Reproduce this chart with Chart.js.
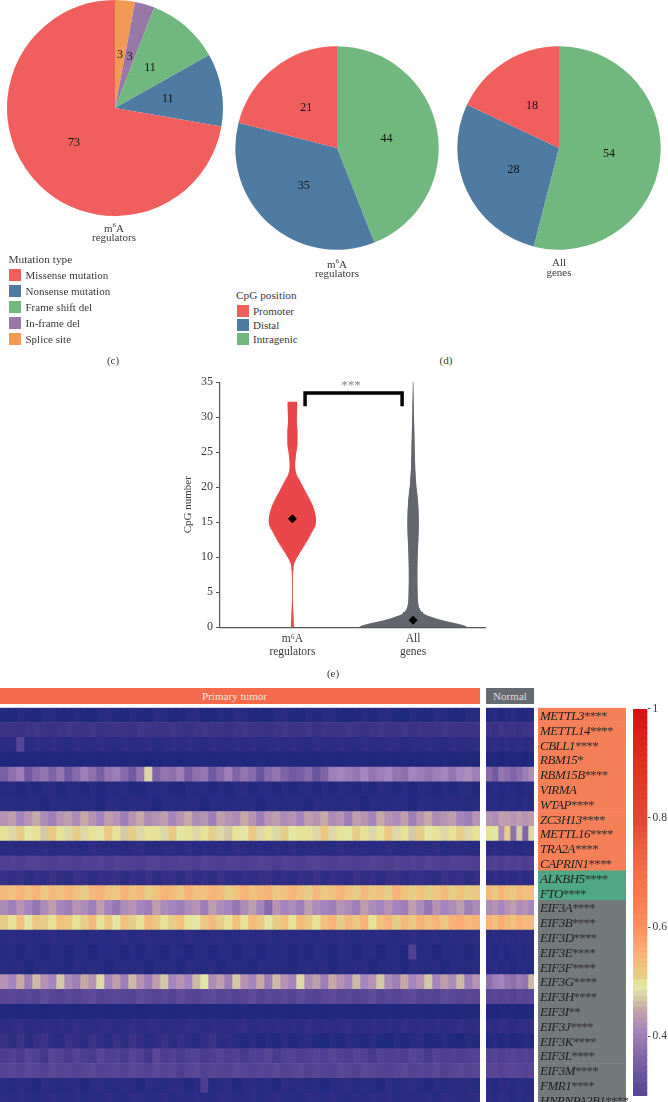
<!DOCTYPE html>
<html>
<head>
<meta charset="utf-8">
<title>m6A regulators</title>
<script src="https://cdn.jsdelivr.net/npm/chart.js@4/dist/chart.umd.js"></script>
<style>
  html, body { margin: 0; padding: 0; background: #fff; }
  body { position: relative; width: 668px; height: 1102px; overflow: hidden; font-family: "Liberation Serif", serif; color: #3a3a3a; }
  canvas { position: absolute; display: block; }
  .t { position: absolute; white-space: nowrap; font-size: 11px; line-height: 14px; }
  .c { transform: translateX(-50%); text-align: center; }
  .l { line-height: 9px; }
  .sw { position: absolute; width: 12px; height: 12px; }
  .band { position: absolute; color: #f3e6dc; font-size: 11.1px; line-height: 16px; text-align: center; box-sizing: border-box; }
  .gene { position: absolute; left: 540px; font-size: 13px; line-height: 15px; color: #222; white-space: nowrap; }
  .gene i { letter-spacing: -.5px; }
  .gene span { color: #333; letter-spacing: -.8px; }
</style>
</head>
<body>
<canvas id="pieMutation" width="240" height="240" style="left:-5px;top:-12px"></canvas>
<canvas id="pieCpgRegulators" width="220" height="220" style="left:227px;top:38px"></canvas>
<canvas id="pieCpgAll" width="220" height="220" style="left:449px;top:38px"></canvas>
<canvas id="violin" width="320" height="300" style="left:170px;top:372px"></canvas>
<canvas id="heatPrimary" width="480" height="401" style="left:0;top:707px"></canvas>
<canvas id="heatNormal" width="48" height="401" style="left:486px;top:707px"></canvas>
<canvas id="heatGroups" width="88" height="401" style="left:538px;top:707px"></canvas>
<canvas id="colorbar" width="35" height="405" style="left:633px;top:700px"></canvas>

<div class="t c l" style="left:114px;top:224px">m<sup style="font-size:7px;line-height:0">6</sup>A<br>regulators</div>
<div class="t c l" style="left:337px;top:260px">m<sup style="font-size:7px;line-height:0">6</sup>A<br>regulators</div>
<div class="t c" style="left:559px;top:257px;line-height:10px">All<br>genes</div>
<div class="t c" style="left:113px;top:353px">(c)</div>
<div class="t c" style="left:446px;top:353px">(d)</div>
<div class="t c" style="left:333px;top:666px">(e)</div>
<div class="t c" style="left:351px;top:378px;color:#888;font-size:13px">***</div>
<div class="band" style="left:0;top:688px;width:480px;height:16px;background:#f66a4c;padding-right:11px">Primary tumor</div>
<div class="band" style="left:486px;top:688px;width:48px;height:16px;background:#666a72;color:#ddd">Normal</div>
<div id="legends"></div>
<div id="genes"></div>

<script>
// pie values
const mutationTypes = ['Missense mutation', 'Nonsense mutation', 'Frame shift del', 'In-frame del', 'Splice site'];
const mutationValues = [73, 11, 11, 3, 3];
const mutationColors = ['#f05f5e', '#4f7ba2', '#71b87f', '#9878a7', '#f09a55'];
const cpgPositions = ['Promoter', 'Distal', 'Intragenic'];
const cpgRegulators = [21, 35, 44];
const cpgAllGenes = [18, 28, 54];
const cpgColors = ['#f05f5e', '#4f7ba2', '#71b87f'];

// violin half widths in px, one per 0.25 CpG from 0 up
const violinCategories = [['m⁶A', 'regulators'], ['All', 'genes']];
const cpgTicks = [0, 5, 10, 15, 20, 25, 30, 35];
const binStep = 0.25;
const regulatorWidths = [
  1.5, 1.4, 1.3, 1.25, 1.2, 1.1, 1, .95, .9, .8, .75, .65, .6, .5, .45, .4,
  .35, .35, .3, .3, .3, .3, .3, .3, .35, .35, .35, .4, .4, .45, .5, .6,
  .7, .85, 1, 1.2, 1.5, 1.9, 2.8, 3.5, 4.5, 5.6, 6.6, 7.7, 8.8, 10, 11, 12.1,
  13.2, 14.3, 15.3, 16.3, 17.3, 18.2, 19.1, 20, 21, 22, 22.8, 23.4, 23.6, 23.7, 23.6, 23.4,
  23.1, 22.7, 22.3, 21.8, 21.2, 20.5, 19.8, 19, 18.1, 17.2, 16.3, 15.4, 14.4, 13.4, 12.5, 11.6,
  10.7, 9.8, 8.9, 8, 7, 6, 5, 4.2, 3.6, 3.2, 3, 2.8, 2.7, 2.7, 2.7, 2.8,
  3, 3.2, 3.4, 3.6, 3.8, 4.1, 4.4, 4.7, 4.9, 5, 5, 5, 5, 5, 5, 5,
  5, 4.9, 4.8, 4.6, 4.5, 4.4, 4.4, 4.4, 4.4, 4.5, 4.5, 4.6, 4.6, 4.7, 4.7, 4.8, 4.8
];
const allGeneWidths = [
  54.5, 51.5, 45, 37, 29.5, 23, 18, 13, 10, 7.8, 6.8, 6, 5.6, 5.2, 5, 4.8,
  4.7, 4.6, 4.6, 4.5, 4.5, 4.4, 4.4, 4.4, 4.3, 4.3, 4.3, 4.3, 4.3, 4.3, 4.3, 4.3,
  4.3, 4.3, 4.3, 4.4, 4.4, 4.4, 4.5, 4.5, 4.6, 4.6, 4.7, 4.8, 4.8, 4.9, 5, 5,
  5.1, 5.2, 5.3, 5.3, 5.4, 5.5, 5.5, 5.6, 5.6, 5.7, 5.7, 5.7, 5.7, 5.7, 5.7, 5.6,
  5.6, 5.5, 5.5, 5.4, 5.3, 5.2, 5.1, 5, 4.9, 4.7, 4.6, 4.4, 4.2, 4, 3.8, 3.6,
  3.3, 3.2, 3.1, 3, 2.9, 2.7, 2.6, 2.5, 2.4, 2.3, 2.2, 2.1, 2.1, 2, 2, 1.9,
  1.9, 1.8, 1.8, 1.7, 1.7, 1.6, 1.6, 1.5, 1.5, 1.5, 1.4, 1.4, 1.3, 1.3, 1.3, 1.2,
  1.2, 1.2, 1.1, 1.1, 1, 1, 1, .9, .9, .9, .8, .8, .8, .7, .7, .7,
  .6, .6, .5, .5, .5, .4, .4, .3, .3, .3, .25, .25, .2, .2, .15, .15, .15
];
const meanCategory = [1, 2];
const meanCpg = [15.5, 1];
const bracketSpan = [1.105, 1.909];
const bracketLevels = [31.55, 33.45];

// heatmap
const genes = ['METTL3', 'METTL14', 'CBLL1', 'RBM15', 'RBM15B', 'VIRMA', 'WTAP', 'ZC3H13', 'METTL16', 'TRA2A', 'CAPRIN1', 'ALKBH5', 'FTO',
  'EIF3A', 'EIF3B', 'EIF3D', 'EIF3E', 'EIF3F', 'EIF3G', 'EIF3H', 'EIF3I', 'EIF3J', 'EIF3K', 'EIF3L', 'EIF3M', 'FMR1', 'HNRNPA2B1'];
const geneStars = ['****', '****', '****', '*', '****', '', '****', '****', '****', '****', '****', '****', '****',
  '****', '****', '****', '****', '****', '****', '****', '**', '****', '****', '****', '****', '****', '****'];
const geneGroups = [0, 0, 0, 0, 0, 0, 0, 0, 0, 0, 0, 1, 1, 2, 2, 2, 2, 2, 2, 2, 2, 2, 2, 2, 2, 2, 2];
const groupColors = ['#f58058', '#4ea886', '#74797a'];

// percent, one row per gene
const primaryTumor = [
  [10,9,12,10,8,11,13,9,10,12,9,8,11,14,10,9,12,10,8,13,11,9,10,12,14,9,8,11,10,13,12,9,10,8,11,14,10,9,12,10,11,13,9,8,10,12,9,11,14,10,8,12,10,9,13,11,10,9,12,11],
  [19,20,18,20,21,19,18,20,21,20,19,21,18,19,20,20,18,21,20,19,20,21,19,18,20,21,19,20,18,20,21,19,20,18,20,21,19,20,21,18,20,20,19,21,20,18,20,21,20,19,21,18,20,20,19,21,20,20,19,20],
  [14,13,28,12,15,13,15,14,12,15,14,13,15,14,12,15,13,14,15,12,14,15,13,15,14,12,15,14,13,15,14,15,12,14,15,13,15,14,12,15,13,14,15,14,12,15,14,13,15,15,12,14,13,15,14,12,15,14,13,15],
  [8,7,9,8,9,7,8,9,7,8,9,8,7,9,8,7,10,8,7,9,8,9,7,8,9,8,7,9,8,9,7,8,10,7,8,9,7,9,8,7,9,8,7,9,8,9,7,8,9,7,9,8,7,9,8,10,7,8,9,7],
  [35,38,40,34,37,39,36,39,34,37,40,38,35,39,40,37,34,39,48,36,39,38,40,35,38,39,34,37,40,36,39,37,33,37,39,36,34,35,37,33,36,40,41,40,39,41,39,40,41,39,38,41,40,39,40,41,39,41,42,40],
  [11,12,10,12,9,11,13,10,12,11,9,12,10,12,11,13,9,10,12,11,12,10,9,12,11,12,10,12,9,11,13,10,11,12,9,12,10,11,13,9,12,10,12,11,9,12,10,13,11,10,12,9,12,11,10,12,9,11,12,10],
  [12,13,11,13,12,10,13,12,13,11,13,12,10,13,12,11,13,12,13,10,12,13,11,12,13,10,13,12,11,13,12,13,10,12,13,11,13,12,10,13,12,13,11,12,13,10,13,12,11,13,12,10,13,12,11,13,12,13,11,12],
  [43,44,41,43,45,42,40,43,44,42,45,43,41,44,43,40,43,45,42,43,44,41,43,45,42,43,40,44,43,42,45,43,40,43,44,42,43,41,44,43,45,42,43,40,44,43,41,45,43,42,44,40,43,45,42,43,44,41,40,43],
  [50,48,51,49,50,47,52,50,48,51,48,50,49,52,50,47,51,48,50,50,48,52,49,50,48,50,51,48,47,50,49,52,48,50,48,51,49,50,50,48,52,48,50,49,51,50,48,50,52,48,50,47,51,49,50,48,50,51,48,50],
  [13,14,12,14,13,15,12,14,14,13,12,15,14,13,14,12,14,15,13,12,14,14,13,15,12,14,13,14,12,15,14,13,14,12,14,13,15,12,14,14,13,12,15,14,13,14,12,14,15,13,12,14,14,13,15,12,14,14,13,12],
  [25,26,24,26,27,25,24,26,26,24,26,25,27,24,26,26,25,24,26,27,24,25,26,26,24,27,25,24,26,26,24,25,27,26,24,26,25,24,26,27,25,24,26,26,24,25,27,26,24,26,25,26,24,27,25,24,26,26,25,24],
  [17,16,18,14,17,15,18,16,14,18,17,14,17,16,18,14,17,15,18,14,16,17,14,18,15,17,14,18,16,14,17,15,17,18,14,16,14,17,15,18,14,17,16,14,18,15,17,14,17,18,14,16,17,15,14,18,16,17,14,17],
  [54,53,55,53,55,52,54,53,55,53,51,54,55,53,52,55,53,54,51,53,55,54,52,55,53,53,55,54,51,53,55,53,54,55,52,53,55,53,51,54,52,53,55,53,51,54,52,53,51,55,53,51,53,51,52,54,51,53,51,52],
  [42,40,43,41,39,42,44,41,40,43,42,40,44,41,39,42,43,41,40,44,42,41,40,42,43,40,44,42,41,39,42,44,41,37,43,41,42,40,44,42,41,40,43,42,40,44,42,41,43,41,40,44,42,39,43,41,42,44,40,42],
  [51,50,53,49,52,51,50,53,52,50,51,54,50,52,49,53,51,50,54,52,50,51,53,50,49,52,54,51,50,53,50,54,52,49,51,53,50,54,52,50,53,55,51,54,52,55,50,53,55,51,54,52,55,53,55,52,55,56,54,55],
  [13,14,12,14,11,13,15,12,14,13,11,14,13,12,14,15,11,13,14,12,14,13,11,15,13,12,14,14,11,13,14,12,13,15,11,14,12,14,13,11,14,12,15,13,11,14,12,14,13,11,14,15,12,13,14,11,14,12,13,14],
  [11,12,10,13,11,9,12,13,10,11,13,9,12,11,13,10,12,9,13,11,10,13,12,9,11,13,10,12,13,9,11,13,10,12,11,13,9,12,10,13,11,9,13,12,10,11,13,9,12,13,10,26,11,13,9,12,11,13,10,12],
  [12,11,13,10,12,13,11,12,10,13,11,13,12,10,11,13,12,13,10,11,12,13,10,13,12,11,13,10,12,13,11,10,13,12,13,11,10,12,13,11,13,10,12,11,13,13,10,12,11,13,10,13,12,11,13,10,12,13,11,13],
  [43,41,45,40,46,43,41,47,42,40,45,43,48,41,44,40,46,43,40,44,47,41,43,41,46,49,42,44,40,47,43,41,45,40,46,43,41,48,42,44,40,45,43,41,46,41,43,47,42,40,45,41,43,47,41,44,42,46,40,43],
  [29,30,28,30,27,31,29,27,30,28,30,31,27,29,30,28,27,31,30,28,30,27,31,29,27,30,31,28,30,27,29,31,27,30,28,30,27,31,29,27,30,31,28,30,27,29,31,27,30,28,30,31,27,29,27,31,30,28,30,29],
  [8,9,7,9,8,7,9,10,8,7,9,8,9,7,9,8,10,7,8,9,9,7,8,10,9,7,9,8,9,7,10,8,9,7,9,8,7,9,9,8,7,10,9,8,9,7,8,9,10,7,8,9,9,7,8,9,7,9,8,9],
  [14,15,16,13,14,15,14,15,13,16,14,14,15,15,13,14,16,14,15,15,13,14,14,16,15,13,15,14,14,15,16,13,15,14,15,14,15,13,16,14,15,14,15,16,13,14,15,14,15,13,16,14,15,14,15,13,14,16,14,15],
  [18,14,19,13,17,20,14,12,18,16,13,19,15,12,18,14,19,16,12,15,18,13,17,14,11,16,19,13,15,12,10,13,9,12,10,13,9,11,13,10,8,12,9,13,11,9,13,10,8,12,9,11,13,8,10,12,9,8,11,10],
  [24,26,23,28,25,22,29,26,23,27,24,23,29,25,26,23,28,25,22,30,24,26,23,26,27,23,25,28,24,26,23,26,25,29,23,26,27,24,26,28,25,29,26,24,28,26,23,27,25,26,24,29,26,23,27,25,26,24,26,27],
  [27,29,26,30,28,26,30,27,29,26,28,30,26,27,29,26,30,28,26,30,27,29,25,28,30,26,29,27,26,30,28,26,29,27,30,26,28,30,26,29,27,26,30,28,26,30,29,27,26,28,30,26,29,27,30,26,28,30,27,29],
  [13,11,14,12,10,14,13,11,12,14,10,13,14,11,12,14,13,10,14,12,11,14,13,10,12,24,11,13,14,10,12,14,11,13,10,14,12,14,11,13,10,12,14,14,11,13,12,10,14,11,13,14,12,10,13,11,14,12,14,11],
  [14,12,15,13,11,14,15,12,13,15,11,14,12,15,13,11,15,14,12,13,15,11,14,12,15,13,11,15,14,12,13,15,11,14,15,12,13,11,15,14,12,15,13,11,14,12,15,13,15,11,14,12,13,15,11,15,14,12,13,15]
];
const normalTissue = [
  [10,12,9,11,13,10,9,12],
  [20,18,21,19,20,18,20,21],
  [14,15,13,15,14,15,13,15],
  [8,9,7,9,8,9,7,9],
  [37,34,39,38,36,38,40,42],
  [11,12,10,12,11,10,12,11],
  [12,13,11,13,12,11,13,12],
  [43,42,44,44,43,44,43,44],
  [50,49,42,51,38,47,36,48],
  [13,14,12,14,13,12,14,13],
  [25,26,24,26,25,26,24,26],
  [14,16,13,15,14,16,13,15],
  [54,52,55,53,52,54,53,53],
  [42,43,41,43,44,42,43,41],
  [55,53,56,54,53,55,54,54],
  [13,14,12,14,12,14,13,14],
  [12,11,13,10,12,13,11,12],
  [12,13,11,13,10,12,13,11],
  [38,40,41,39,38,40,39,46],
  [29,30,28,30,27,30,29,30],
  [9,7,9,8,9,7,8,9],
  [15,14,16,15,14,15,15,16],
  [10,12,9,11,8,10,12,9],
  [26,27,25,27,28,26,27,25],
  [28,29,27,29,30,28,27,29],
  [13,11,14,12,11,14,13,12],
  [14,12,15,13,11,14,12,13]
];

// colour scale, same stops for the heatmap and the colour bar
const scaleStops = [0, .05, .1, .15, .2, .25, .3, .33, .36, .39, .41, .43, .45, .465, .48, .495, .51, .53, .56, .6, .655, .7, .8, .9, 1];
const scaleColors = ['#182572', '#1a2777', '#222a80', '#2f2d84', '#3e3487', '#4f3f90', '#5a4896', '#6a55a0', '#8064a8', '#9676b0', '#a585bd', '#b692b3', '#c6a9a6', '#cfc2a6', '#dcd8a8', '#e6eda2', '#e5cf88', '#f1c27e', '#fbab75', '#fc9060', '#f87a4e', '#f37149', '#e64632', '#e5301f', '#de0f10'];
const colorbarLevels = [.29, .3, .31, .32, .33, .34, .35, .36, .37, .38, .39, .4, .41, .42, .43, .44, .45, .46, .47, .48, .49, .5, .51, .52, .53, .54, .55, .56, .57, .58, .59, .6,
  .61, .62, .63, .64, .65, .66, .67, .68, .69, .7, .71, .72, .73, .74, .75, .76, .77, .78, .79, .8, .81, .82, .83, .84, .85, .86, .87, .88, .89, .9, .91, .92, .93, .94, .95, .96, .97, .98, .99, 1];
const colorbarTicks = [.4, .6, .8, 1];

const serif = '"Liberation Serif", serif';
Chart.defaults.font.family = serif;
Chart.defaults.animation = false;
Chart.defaults.responsive = false;
Chart.defaults.plugins.legend.display = false;
Chart.defaults.plugins.tooltip.enabled = false;

function hex(c) {
  return [1, 3, 5].map(i => parseInt(c.slice(i, i + 2), 16));
}

function colorAt(v) {
  let i = 0;
  while (i < scaleStops.length - 2 && v > scaleStops[i + 1]) i++;
  const f = Math.min(1, Math.max(0, (v - scaleStops[i]) / (scaleStops[i + 1] - scaleStops[i])));
  const a = hex(scaleColors[i]);
  const b = hex(scaleColors[i + 1]);
  return `rgb(${a.map((x, k) => Math.round(x + (b[k] - x) * f)).join(',')})`;
}

// value labels half way along each slice
const sliceLabels = {
  id: 'sliceLabels',
  afterDatasetsDraw(chart) {
    const ctx = chart.ctx;
    const values = chart.data.datasets[0].data;
    ctx.save();
    ctx.font = '12px ' + serif;
    ctx.fillStyle = '#111';
    ctx.textAlign = 'center';
    ctx.textBaseline = 'middle';
    chart.getDatasetMeta(0).data.forEach((arc, i) => {
      const mid = (arc.startAngle + arc.endAngle) / 2;
      const r = arc.outerRadius * 0.495;
      ctx.fillText(values[i], arc.x + Math.cos(mid) * r, arc.y + Math.sin(mid) * r);
    });
    ctx.restore();
  }
};

function renderPie(canvasId, labels, values, colors, padding) {
  new Chart(document.getElementById(canvasId), {
    type: 'pie',
    data: {
      labels: [...labels].reverse(),
      datasets: [{
        data: [...values].reverse(),
        backgroundColor: [...colors].reverse(),
        borderWidth: 0
      }]
    },
    options: { layout: { padding } },
    plugins: [sliceLabels]
  });
}

renderPie('pieMutation', mutationTypes, mutationValues, mutationColors, 12);
renderPie('pieCpgRegulators', cpgPositions, cpgRegulators, cpgColors, 8.3);
renderPie('pieCpgAll', cpgPositions, cpgAllGenes, cpgColors, 8.3);

function renderLegend(title, left, top, step, labels, colors) {
  const box = document.getElementById('legends');
  box.insertAdjacentHTML('beforeend', `<div class="t" style="left:${left}px;top:${top}px;font-size:11.3px">${title}</div>`);
  labels.forEach((label, i) => {
    const y = top + 16 + i * step;
    box.insertAdjacentHTML('beforeend',
      `<div class="sw" style="left:${left + .5}px;top:${y + 1}px;background:${colors[i]}"></div>` +
      `<div class="t" style="left:${left + 17}px;top:${y}px">${label}</div>`);
  });
}
renderLegend('Mutation type', 8.5, 252, 15.9, mutationTypes, mutationColors);
renderLegend('CpG position', 236, 288, 14.2, cpgPositions, cpgColors);

// violin is a stack of thin floating bars on the real CpG scale
const pxPerCategory = 121;
const footBins = 8;
function violinBars(widths, center) {
  return widths.map((w, i) => ({ y: i * binStep, x: [center - w / pxPerCategory, center + w / pxPerCategory] }));
}

// the wide foot of the all genes violin looks stepped as bars, so it is a filled line
const footRight = allGeneWidths.slice(0, footBins + 1).map((w, i) => ({ x: meanCategory[1] + w / pxPerCategory, y: i * binStep }));
const footLeft = allGeneWidths.slice(0, footBins + 1).map((w, i) => ({ x: meanCategory[1] - w / pxPerCategory, y: i * binStep }));

new Chart(document.getElementById('violin'), {
  type: 'bar',
  data: {
    datasets: [
      { indexAxis: 'y', grouped: false, order: 3, data: violinBars(regulatorWidths, meanCategory[0]), backgroundColor: '#e9474a', barPercentage: 1.8, categoryPercentage: 1, borderWidth: 0 },
      { indexAxis: 'y', grouped: false, order: 3, data: violinBars(allGeneWidths, meanCategory[1]).slice(footBins), backgroundColor: '#63666e', barPercentage: 1.8, categoryPercentage: 1, borderWidth: 0 },
      {
        type: 'scatter', order: 3, showLine: true, pointRadius: 0, borderWidth: 0, fill: 'origin', backgroundColor: '#63666e',
        data: [...footLeft, ...footRight.reverse()]
      },
      {
        type: 'scatter', order: 2, showLine: true, pointRadius: 0, borderColor: '#000', borderWidth: 3.5, borderJoinStyle: 'miter',
        data: [
          { x: bracketSpan[0], y: bracketLevels[0] },
          { x: bracketSpan[0], y: bracketLevels[1] },
          { x: bracketSpan[1], y: bracketLevels[1] },
          { x: bracketSpan[1], y: bracketLevels[0] }
        ]
      },
      {
        type: 'scatter', order: 1, pointStyle: 'rectRot', pointRadius: 4.5, backgroundColor: '#000', borderColor: '#000', borderWidth: 0,
        data: meanCategory.map((x, i) => ({ x, y: meanCpg[i] }))
      }
    ]
  },
  options: {
    layout: { padding: { top: 8.7, right: 4.3 } },
    scales: {
      x: {
        type: 'linear', min: 0.4, max: 2.6, offset: false,
        afterFit: s => { s.height = 44.7; },
        afterBuildTicks: s => { s.ticks = meanCategory.map(value => ({ value })); },
        grid: { offset: false, drawOnChartArea: false, drawTicks: false },
        border: { color: '#555', width: 1.2 },
        ticks: {
          color: '#3a3a3a', font: { size: 11.5, lineHeight: 1.13 }, padding: 5, autoSkip: false, maxRotation: 0,
          callback: v => violinCategories[v - 1]
        }
      },
      y: {
        type: 'linear', min: 0, max: 35, offset: false,
        afterFit: s => { s.width = 50; },
        afterBuildTicks: s => { s.ticks = cpgTicks.map(value => ({ value })); },
        grid: { offset: false, drawOnChartArea: false, tickLength: 4, color: '#555' },
        border: { color: '#555', width: 1.2 },
        title: { display: true, text: 'CpG number', color: '#3a3a3a', font: { size: 11 }, padding: { top: 12, bottom: 0 } },
        ticks: { color: '#3a3a3a', font: { size: 12 }, padding: 3 }
      }
    }
  }
});

// heatmap columns are stacked unit bars, one dataset per column
function renderHeat(canvasId, matrix) {
  const columns = matrix[0].map((_, c) => ({
    data: matrix.map(() => 1),
    backgroundColor: matrix.map(row => colorAt(row[c] / 100)),
    borderWidth: 0,
    barPercentage: 1,
    categoryPercentage: 1
  }));
  new Chart(document.getElementById(canvasId), {
    type: 'bar',
    data: { labels: genes, datasets: columns },
    options: {
      indexAxis: 'y',
      layout: { padding: { top: 0.7 } },
      scales: {
        x: { display: false, stacked: true, min: 0, max: matrix[0].length },
        y: { display: false, stacked: true }
      }
    }
  });
}
renderHeat('heatPrimary', primaryTumor);
renderHeat('heatNormal', normalTissue);

new Chart(document.getElementById('heatGroups'), {
  type: 'bar',
  data: {
    labels: genes,
    datasets: [{
      data: geneGroups.map(() => 1),
      backgroundColor: geneGroups.map(g => groupColors[g]),
      borderWidth: 0,
      barPercentage: 1,
      categoryPercentage: 1
    }]
  },
  options: {
    indexAxis: 'y',
    layout: { padding: { top: 0.7 } },
    scales: { x: { display: false, min: 0, max: 1 }, y: { display: false } }
  }
});

const geneBox = document.getElementById('genes');
genes.forEach((g, i) => {
  geneBox.insertAdjacentHTML('beforeend',
    `<div class="gene" style="top:${707.9 + i * 14.8}px"><i>${g}</i><span>${geneStars[i]}</span></div>`);
});

new Chart(document.getElementById('colorbar'), {
  type: 'bar',
  data: {
    datasets: [{
      data: colorbarLevels.map(v => ({ y: v, x: [0, 1] })),
      backgroundColor: colorbarLevels.map(colorAt),
      borderWidth: 0,
      barPercentage: 1.2,
      categoryPercentage: 1
    }]
  },
  options: {
    indexAxis: 'y',
    layout: { padding: { top: 7.5 } },
    scales: {
      x: { type: 'linear', display: false, min: 0, max: 1, offset: false },
      y: {
        type: 'linear', position: 'right', min: 0.29, max: 1, offset: false,
        afterFit: s => { s.width = 20.5; },
        afterBuildTicks: s => { s.ticks = colorbarTicks.map(value => ({ value })); },
        grid: { offset: false, drawOnChartArea: false, tickLength: 3, color: '#555' },
        border: { display: false },
        ticks: { color: '#3a3a3a', font: { size: 11.5 }, padding: 2, callback: v => String(v) }
      }
    }
  }
});
</script>
</body>
</html>
